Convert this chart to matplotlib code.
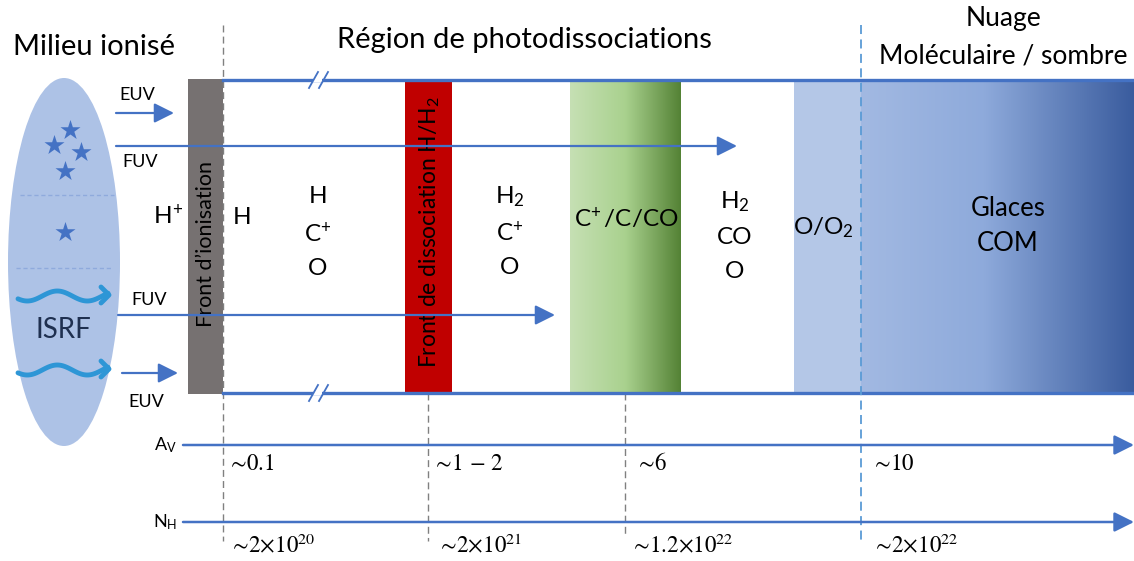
import matplotlib
matplotlib.use('Agg')
import matplotlib.pyplot as plt
import numpy as np
from matplotlib.patches import Ellipse, Rectangle
from matplotlib.colors import LinearSegmentedColormap

plt.rcParams['font.family'] = ['Lato', 'DejaVu Sans']
plt.rcParams['mathtext.fontset'] = 'custom'
plt.rcParams['mathtext.rm'] = 'Lato'
plt.rcParams['mathtext.it'] = 'Lato:italic'
plt.rcParams['mathtext.bf'] = 'Lato:bold'

W, H = 1134, 561
BLEU = '#4472c4'

# --- zones (positions en pixels) ---
fronts = ['Front d’ionisation', 'Front de dissociation H/H$_2$']
front_x0 = [188, 405]
front_x1 = [223, 452]
front_couleurs = ['#767171', '#c00000']
front_texte_y = [244, 232]

zone_co = (570, 681)
zone_o2 = (794, 861)
zone_nuage = (861, 1134)
bande_y = (80, 393)

# especes chimiques (x, y, texte)
especes = [
    (168, 215, 'H$^{\\!+}$'), (242, 217, 'H'),
    (318, 196, 'H'), (318, 233, 'C$^{\\!+}$'), (318, 268, 'O'),
    (510, 197, 'H$_2$'), (510, 232, 'C$^{\\!+}$'), (510, 267, 'O'),
    (626, 218, 'C$^{\\!+}$/C/CO'),
    (735, 202, 'H$_2$'), (735, 237, 'CO'), (735, 271, 'O'),
    (823, 228, 'O/O$_2$'),
    (1008, 208, 'Glaces'), (1008, 243, 'COM'),
]

# rayonnement (x debut, x fin, y, label, label x, label y)
rayons = [
    (116, 174, 113, 'EUV', 137, 95),
    (116, 737, 146, 'FUV', 140, 162),
    (118, 555, 315, 'FUV', 149, 300),
    (122, 178, 373, 'EUV', 146, 402),
]

# echelles Av et NH
av_y, nh_y = 445, 522
av_valeurs = ['0.1', '1\\,-\\,2', '6', '10']
nh_valeurs = ['2{\\times}10^{20}', '2{\\times}10^{21}', '1.2{\\times}10^{22}', '2{\\times}10^{22}']
av_text_x = [227, 432, 635, 871]
nh_text_x = [229, 437, 630, 872]

fig = plt.figure(figsize=(W / 100, H / 100), dpi=100)
ax = fig.add_axes([0, 0, 1, 1])
ax.set_xlim(0, W)
ax.set_ylim(H, 0)
ax.axis('off')


def degrade(x0, x1, y0, y1, couleurs, pos):
    cmap = LinearSegmentedColormap.from_list('g', list(zip(pos, couleurs)))
    grad = np.linspace(0, 1, 256).reshape(1, -1)
    ax.imshow(grad, cmap=cmap, extent=(x0, x1, y1, y0), aspect='auto', zorder=1)


fleche = dict(arrowstyle='-|>,head_length=0.8,head_width=0.4', color=BLEU,
              shrinkA=0, shrinkB=0, mutation_scale=15)

# milieu ionise
ax.add_patch(Ellipse((64, 262), 112, 368, color='#adc2e6', zorder=1, lw=0))
ax.plot([20, 114], [195, 195], ls=(0, (3, 2)), color='#8faadc', lw=1, zorder=2)
ax.plot([16, 112], [268, 268], ls=(0, (3, 2)), color='#8faadc', lw=1, zorder=2)
etoiles_x = [70, 54, 81, 65, 65]
etoiles_y = [130, 145, 152, 171, 232]
ax.scatter(etoiles_x, etoiles_y, marker='*', s=230, color=BLEU, lw=0, zorder=3)

for yc in [296, 370]:
    xs = np.linspace(18, 108, 100)
    ys = yc + 5 * np.sin(2 * np.pi * (xs - 18) / 60 + 0.6)
    ax.plot(xs, ys, color='#2e96d6', lw=3.5, solid_capstyle='round', zorder=3)
    ax.plot([101, 109, 101], [yc - 9, yc - 1, yc + 7], color='#2e96d6', lw=3.5,
            solid_capstyle='round', solid_joinstyle='round', zorder=3)
ax.text(63, 330, 'ISRF', fontsize=20, color='#1f3050', ha='center', va='center', zorder=4)
ax.text(94, 47, 'Milieu ionisé', fontsize=21, ha='center', va='center')

# zones colorees
degrade(zone_co[0], zone_co[1], bande_y[0], bande_y[1], ['#c6e0b4', '#a9d18e', '#548235'], [0, 0.5, 1])
ax.add_patch(Rectangle((zone_o2[0], bande_y[0]), zone_o2[1] - zone_o2[0], bande_y[1] - bande_y[0],
                       color='#b4c7e7', lw=0, zorder=1))
degrade(zone_nuage[0], zone_nuage[1], bande_y[0], bande_y[1], ['#a2b9e2', '#8eaadb', '#3a5c9e'], [0, 0.45, 1])

for x0, x1, c, t, ty, fs in zip(front_x0, front_x1, front_couleurs, fronts, front_texte_y, [15.5, 16.5]):
    ax.add_patch(Rectangle((x0, 79), x1 - x0, 315, color=c, lw=0, zorder=1))
    ax.text((x0 + x1) / 2 + 1, ty, t, rotation=90, fontsize=fs, ha='center', va='center', zorder=5)

# bords de la region
for y in bande_y:
    ax.plot([223, W], [y, y], color=BLEU, lw=2.4, zorder=4)
    ax.add_patch(Rectangle((313, y - 2), 9, 4, color='white', lw=0, zorder=4.5))
    for dx in [0, 10]:
        ax.plot([309 + dx, 318 + dx], [y + 8, y - 8], color=BLEU, lw=1.3, zorder=5)

# lignes pointillees verticales
ax.plot([223, 223], [25, 541], ls=(0, (5, 3)), color='#808080', lw=1, zorder=2)
ax.plot([428, 428], [393, 541], ls=(0, (5, 3)), color='#808080', lw=1, zorder=2)
ax.plot([625, 625], [393, 537], ls=(0, (5, 3)), color='#808080', lw=1, zorder=2)
ax.plot([861, 861], [25, 541], ls=(0, (5, 3)), color='#5b9bd5', lw=1.3, zorder=6)

# rayonnements
for x0, x1, y, lab, lx, ly in rayons:
    ax.annotate('', xy=(x1, y), xytext=(x0, y), arrowprops=dict(fleche, lw=1.6), zorder=6)
    ax.text(lx, ly, lab, fontsize=13, ha='center', va='center', zorder=6)

# especes
for x, y, t in especes:
    fs = 18.5 if t in ('Glaces', 'COM') else 17.5
    ax.text(x, y, t, fontsize=fs, ha='center', va='center', zorder=6)

ax.text(524, 40, 'Région de photodissociations', fontsize=21, ha='center', va='center')
ax.text(1003, 18, 'Nuage', fontsize=19, ha='center', va='center')
ax.text(1003, 56, 'Moléculaire / sombre', fontsize=19, ha='center', va='center')

# axes Av et NH
for y, lab in [(av_y, 'A$_\\mathregular{V}$'), (nh_y, 'N$_\\mathregular{H}$')]:
    ax.annotate('', xy=(W, y), xytext=(183, y), arrowprops=dict(fleche, lw=1.8), zorder=6)
    ax.text(177, y, lab, fontsize=13, ha='right', va='center')

for x, v in zip(av_text_x, av_valeurs):
    ax.text(x, 463, '${\\sim}\\!' + v + '$', fontsize=16.5, ha='left', va='center',
            math_fontfamily='stix')
for x, v in zip(nh_text_x, nh_valeurs):
    ax.text(x, 545, '${\\sim}\\!' + v + '$', fontsize=16.5, ha='left', va='center', math_fontfamily='stix')

fig.savefig('out.png', dpi=100)
